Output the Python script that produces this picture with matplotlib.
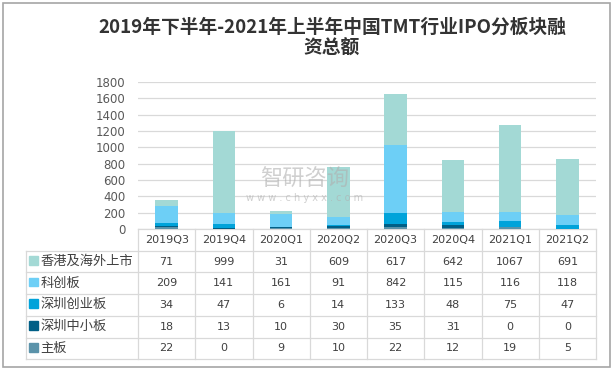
import matplotlib
matplotlib.use("Agg")
from matplotlib import pyplot as plt
from matplotlib.patches import Rectangle
import numpy as np

plt.rcParams['font.family'] = ['Noto Sans CJK SC', 'DejaVu Sans']

quarters = ['2019Q3', '2019Q4', '2020Q1', '2020Q2', '2020Q3', '2020Q4', '2021Q1', '2021Q2']
# stacking order: bottom to top
series_names = ['主板', '深圳中小板', '深圳创业板', '科创板', '香港及海外上市']
main_board = [22, 0, 9, 10, 22, 12, 19, 5]
sz_sme = [18, 13, 10, 30, 35, 31, 0, 0]
sz_gem = [34, 47, 6, 14, 133, 48, 75, 47]
star = [209, 141, 161, 91, 842, 115, 116, 118]
hk_overseas = [71, 999, 31, 609, 617, 642, 1067, 691]
colors = ['#5B93AA', '#005F86', '#00A3DA', '#6DCFF6', '#A3D9D5']
yticks = [0, 200, 400, 600, 800, 1000, 1200, 1400, 1600, 1800]

W, H = 614, 371
fig = plt.figure(figsize=(W / 100, H / 100), dpi=100)

# plot area in pixels
left, right, top, bottom = 138, 596, 82, 229
ax = fig.add_axes([left / W, 1 - bottom / H, (right - left) / W, (bottom - top) / H])

data = [main_board, sz_sme, sz_gem, star, hk_overseas]
x = np.arange(len(quarters))
base = np.zeros(len(quarters))
for vals, c, name in zip(data, colors, series_names):
    ax.bar(x, vals, bottom=base, width=0.39, color=c, label=name, zorder=3)
    base += np.array(vals)

ax.set_xlim(-0.5, len(quarters) - 0.5)
ax.set_ylim(0, 1800)
ax.set_yticks(yticks)
ax.set_xticks([])
ax.tick_params(axis='y', length=0, labelsize=8.5, labelcolor='#595959', pad=9)
for lbl in ax.get_yticklabels():
    lbl.set_family('DejaVu Sans')
ax.grid(axis='y', color='#D9D9D9', linewidth=0.9, zorder=0)
for s in ax.spines.values():
    s.set_visible(False)

# data table below the axes
grid_c = '#D9D9D9'
text_c = '#404040'
px_h = bottom - top
row_h = 21.7 / px_h  # row height in axes units
tbl_left = (25.6 - left) / (right - left)
n_rows = len(series_names)
tr = ax.transAxes

def hline(y0, x0, x1):
    ax.plot([x0, x1], [y0, y0], color=grid_c, lw=0.9, transform=tr, clip_on=False)

def vline(xx, y0, y1):
    ax.plot([xx, xx], [y0, y1], color=grid_c, lw=0.9, transform=tr, clip_on=False)

hline(0, 0, 1)
for r in range(1, n_rows + 2):
    hline(-r * row_h, tbl_left, 1)
vline(tbl_left, -row_h, -(n_rows + 1) * row_h)
for k in range(len(quarters) + 1):
    vline(k / len(quarters), 0, -(n_rows + 1) * row_h)

for k, q in enumerate(quarters):
    ax.text((k + 0.5) / len(quarters), -0.5 * row_h, q, transform=tr,
            ha='center', va='center', fontsize=8, color=text_c, family='DejaVu Sans')

# table rows top to bottom: reverse of stacking
for r, (name, vals, c) in enumerate(zip(series_names[::-1], data[::-1], colors[::-1])):
    yc = -(r + 1.5) * row_h
    ax.add_patch(Rectangle((tbl_left + 0.008, yc - 0.022), 0.018, 0.06, transform=tr,
                           color=c, clip_on=False))
    ax.text(tbl_left + 0.032, yc, name, transform=tr, ha='left', va='center',
            fontsize=9.5, color=text_c)
    for k, v in enumerate(vals):
        ax.text((k + 0.5) / len(quarters), yc, str(v), transform=tr,
                ha='center', va='center', fontsize=8, color=text_c, family='DejaVu Sans')

# title
fig.text(332 / W, 1 - 27 / H, '2019年下半年-2021年上半年中国TMT行业IPO分板块融',
         ha='center', va='center', fontsize=13.5, fontweight='bold', color='#333333')
fig.text(332 / W, 1 - 48 / H, '资总额',
         ha='center', va='center', fontsize=13.5, fontweight='bold', color='#333333')

# watermark
fig.text(305 / W, 1 - 179 / H, '智研咨询', ha='center', va='center', fontsize=16,
         color='#B0B0B0', alpha=0.6)
fig.text(305 / W, 1 - 198 / H, 'w w w . c h y x x . c o m', ha='center', va='center',
         fontsize=7, color='#B0B0B0', alpha=0.6, family='DejaVu Sans')

# outer border
fig.add_artist(Rectangle((3 / W, 4 / H), (W - 7) / W, (H - 7) / H, transform=fig.transFigure,
                         fill=False, edgecolor='#A6A6A6', lw=1.2))

fig.savefig('out.png', dpi=100)
